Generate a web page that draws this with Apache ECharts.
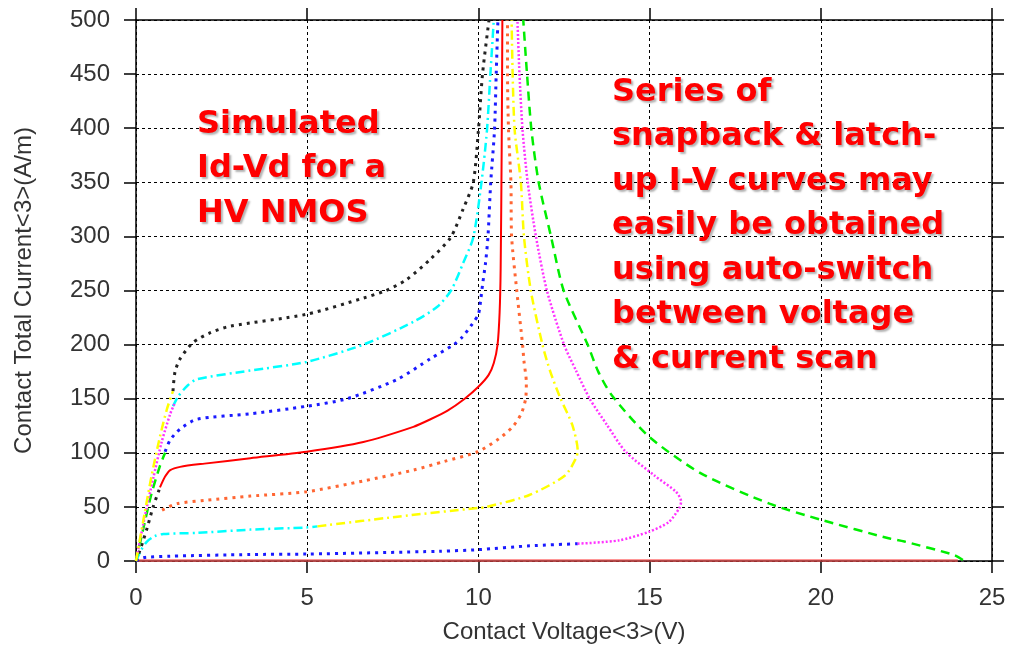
<!DOCTYPE html>
<html>
<head>
<meta charset="utf-8">
<script src="https://cdn.jsdelivr.net/npm/echarts@6/dist/echarts.min.js"></script>
<style>html,body{margin:0;padding:0;background:#fff}#c{width:1009px;height:649px}</style>
</head>
<body>
<div id="c"></div>
<script>
// Axis ticks
const xTicks = [0, 5, 10, 15, 20, 25];
const yTicks = [0, 50, 100, 150, 200, 250, 300, 350, 400, 450, 500];

// Curve segments: [voltage (V), current (A/m)]
const yellowRamp = [[0,0],[0.2,35],[0.45,78],[0.7,115],[0.9,140],[1.08,157]];
const magentaRamp = [[0,0],[0.25,40],[0.5,76],[0.75,110],[1.0,136],[1.12,145]];
const greenRamp = [[0,0],[0.2,28],[0.45,62],[0.7,88],[0.85,100]];
const blackRamp = [[0,0],[0.15,13],[0.32,30],[0.5,50],[0.7,68]];

const blackHigh = [[1.08,157],[1.14,175],[1.29,187],[1.67,202],[2.17,211],[2.75,217],[4.98,228],[6.64,243],[7.3,250],[7.9,260],[8.6,279],[9.19,299],[9.55,325],[9.85,350],[10.0,398],[10.12,450],[10.31,500]];
const cyanHigh = [[1.08,143],[1.23,152],[1.5,162],[1.78,168],[3.33,176],[4.98,184],[6.64,200],[8.1,221],[8.8,235],[9.2,250],[9.55,275],[9.85,299],[10.09,350],[10.25,398],[10.35,450],[10.45,500]];
const blueHigh = [[0.85,101],[1.0,112],[1.29,122],[1.78,131],[3.33,136],[4.98,143],[6.17,150],[7.64,168],[8.6,187],[9.28,200],[9.53,207],[9.82,219],[10.0,228],[10.07,242],[10.12,255],[10.21,276],[10.28,300],[10.36,350],[10.47,398],[10.52,450],[10.57,500]];
const redMain = [[0.7,68],[0.85,78],[1.0,84],[1.29,87],[2.0,90],[3.34,95],[4.98,101],[6.64,110],[8.1,124],[8.6,131],[9.1,139],[9.6,150],[10.0,161],[10.3,172],[10.45,183],[10.56,200],[10.62,230],[10.65,270],[10.68,380],[10.7,500]];
const orangeMain = [[0.76,47],[1.2,53],[2.0,56],[3.34,60],[4.98,64],[6.64,74],[8.1,84],[9.0,92],[9.98,101],[10.6,113],[11.0,124],[11.25,136],[11.38,150],[11.4,165],[11.33,185],[11.29,200],[11.12,250],[10.97,300],[10.95,350],[10.88,398],[10.85,450],[10.85,500]];
const cyanLow = [[0,0],[0.15,10],[0.32,18],[0.55,23],[0.8,25],[1.78,26],[3.34,29],[4.98,31],[5.3,32]];
const yellowMain = [[5.3,32],[7.64,41],[9.98,49],[10.24,50],[11.49,61],[12.53,79],[12.85,95],[12.9,102],[12.74,126],[12.4,150],[12.1,175],[11.87,200],[11.53,250],[11.33,300],[11.24,350],[11.06,398],[11.0,450],[10.97,500]];
const blueLow = [[0,0],[0.1,2],[0.3,3.5],[1.0,4.5],[3.34,6],[4.98,6.4],[8.88,9],[10.0,10.5],[11.5,14],[12.9,16]];
const magentaMain = [[12.9,16],[14.1,19],[14.98,27],[15.56,36],[15.87,49],[15.92,55],[15.77,64],[15.14,79],[14.3,101],[13.75,126],[13.25,150],[12.85,176],[12.5,200],[12.0,250],[11.68,300],[11.44,350],[11.29,398],[11.2,450],[11.14,500]];
const redZero = [[0,0.5],[24.0,0.5]];
const greenMain = [[24.15,1],[23.9,5.5],[22.44,18],[21.98,21],[20.02,38],[18.5,53],[16.5,81],[14.98,115],[13.9,153],[13.5,175],[13.19,200],[12.49,250],[12.12,300],[11.76,350],[11.55,398],[11.42,450],[11.31,500]];

const annotLeft = ['Simulated', 'Id-Vd for a', 'HV NMOS'];
const annotRight = ['Series of', 'snapback & latch-', 'up I-V curves may', 'easily be obtained', 'using auto-switch', 'between voltage', '& current scan'];

const STY = {
  black:   {color:'#222222', width:3,   type:[3,5]},
  cyan:    {color:'#00ffff', width:2.5, type:[9,4,2,4]},
  blue:    {color:'#1a1aff', width:3,   type:[3,5]},
  red:     {color:'#ff0000', width:2,   type:'solid'},
  orange:  {color:'#ff6633', width:3,   type:[3,5]},
  yellow:  {color:'#ffff00', width:2.5, type:[9,4,2,4]},
  magenta: {color:'#ff33ff', width:2.5, type:[2,2]},
  green:   {color:'#00ee00', width:2.5, type:[9,6]},
  redFaint:{color:'rgba(255,80,80,0.6)', width:3, type:'solid'}
};

const segs = [
  [redZero,'redFaint'],
  [blueLow,'blue'],[cyanLow,'cyan'],[blackRamp,'black'],
  [greenMain,'green'],[magentaMain,'magenta'],[yellowMain,'yellow'],[orangeMain,'orange'],
  [redMain,'red'],[blueHigh,'blue'],[cyanHigh,'cyan'],[blackHigh,'black'],
  [greenRamp,'green'],[magentaRamp,'magenta'],[yellowRamp,'yellow']
];

const series = segs.map(([d,k]) => ({
  type:'line', data:d, symbol:'none', smooth:0.25, silent:true,
  lineStyle:{color:STY[k].color, width:STY[k].width, type:STY[k].type, cap:'butt'}
}));

const chart = echarts.init(document.getElementById('c'), null, {renderer:'canvas'});
const labelStyle = {color:'#333333', fontFamily:'Liberation Sans, Arial', fontSize:24};
const nameStyle = {color:'#333333', fontFamily:'Liberation Sans, Arial', fontSize:24};
const gridDash = {color:'#000', width:1, type:[3,3]};
const annStyle = {color:'#ff0000', fontFamily:'DejaVu Sans', fontWeight:'bold', fontSize:32, lineHeight:44.5,
  textShadowColor:'rgba(0,0,0,0.3)', textShadowOffsetX:2, textShadowOffsetY:2, textShadowBlur:2};

chart.setOption({
  animation:false,
  backgroundColor:'#fff',
  title:[
    {text:annotLeft.join('\n'), left:192, top:97, textStyle:annStyle},
    {text:annotRight.join('\n'), left:607, top:65, textStyle:annStyle}
  ],
  grid:{left:136, right:17, top:20, bottom:86},
  xAxis:[
    {type:'value', min:xTicks[0], max:xTicks[xTicks.length-1], interval:5, position:'bottom',
     name:'Contact Voltage<3>(V)', nameLocation:'middle', nameGap:59,
     nameTextStyle:nameStyle,
     axisLine:{show:true, onZero:false, lineStyle:{color:'#000', width:1.5}},
     axisTick:{show:true, inside:false, length:12, lineStyle:{color:'#000', width:1.5}},
     axisLabel:{margin:25, ...labelStyle},
     splitLine:{show:true, lineStyle:gridDash}},
    {type:'value', min:0, max:25, interval:5, position:'top',
     axisLine:{show:true, onZero:false, lineStyle:{color:'#000', width:1.5}},
     axisTick:{show:true, inside:false, length:12, lineStyle:{color:'#000', width:1.5}},
     axisLabel:{show:false}, splitLine:{show:false}}
  ],
  yAxis:[
    {type:'value', min:yTicks[0], max:yTicks[yTicks.length-1], interval:50, position:'left',
     name:'Contact Total Current<3>(A/m)', nameLocation:'middle', nameGap:100, nameRotate:90,
     nameTextStyle:nameStyle,
     axisLine:{show:true, onZero:false, lineStyle:{color:'#000', width:1.5}},
     axisTick:{show:true, inside:false, length:12, lineStyle:{color:'#000', width:1.5}},
     axisLabel:{margin:26, ...labelStyle},
     splitLine:{show:true, lineStyle:gridDash}},
    {type:'value', min:0, max:500, interval:50, position:'right',
     axisLine:{show:true, onZero:false, lineStyle:{color:'#000', width:1.5}},
     axisTick:{show:true, inside:false, length:12, lineStyle:{color:'#000', width:1.5}},
     axisLabel:{show:false}, splitLine:{show:false}}
  ],
  series:series
});
</script>
</body>
</html>
